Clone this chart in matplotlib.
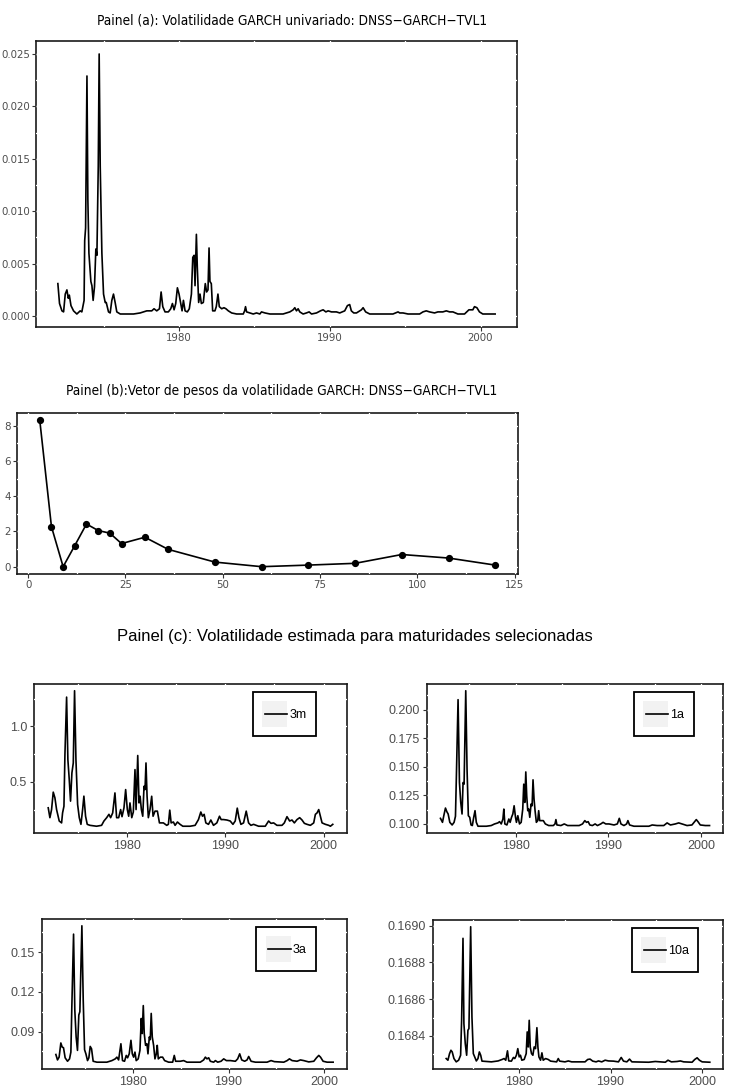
import matplotlib
matplotlib.use("Agg")
import matplotlib.pyplot as plt
from matplotlib.lines import Line2D
from matplotlib.patches import Rectangle
from matplotlib.legend_handler import HandlerBase
from matplotlib.ticker import MultipleLocator, FormatStrFormatter

# ---- Painel (a): volatilidade GARCH univariada (ano, valor) ----
A_YEAR = [1971.96, 1972.07, 1972.23, 1972.34, 1972.45, 1972.56, 1972.65, 1972.72, 1972.83, 1973.00,
          1973.22, 1973.44, 1973.55, 1973.66, 1973.70, 1973.74, 1973.80, 1973.89, 1973.95, 1974.02,
          1974.15, 1974.22, 1974.30, 1974.39, 1974.48, 1974.55, 1974.64, 1974.70, 1974.77, 1974.88,
          1974.99, 1975.10, 1975.17, 1975.32, 1975.43, 1975.54, 1975.65, 1975.76, 1975.87, 1976.10,
          1976.98, 1977.42, 1977.86, 1978.19, 1978.34, 1978.52, 1978.70, 1978.81, 1978.92, 1979.07,
          1979.29, 1979.45, 1979.56, 1979.67, 1979.78, 1979.89, 1980.00, 1980.11, 1980.20, 1980.29,
          1980.40, 1980.55, 1980.68, 1980.82, 1980.91, 1981.00, 1981.06, 1981.15, 1981.21, 1981.30,
          1981.39, 1981.48, 1981.61, 1981.74, 1981.83, 1981.92, 1981.99, 1982.05, 1982.14, 1982.23,
          1982.38, 1982.47, 1982.58, 1982.67, 1982.83, 1982.98, 1983.11, 1983.27, 1983.49, 1983.82,
          1984.26, 1984.35, 1984.41, 1984.48, 1984.70, 1984.92, 1985.14, 1985.36, 1985.47, 1985.70,
          1986.03, 1986.90, 1987.35, 1987.57, 1987.68, 1987.79, 1987.90, 1988.01, 1988.23, 1988.45,
          1988.63, 1988.79, 1989.12, 1989.38, 1989.56, 1989.74, 1989.89, 1990.11, 1990.44, 1990.66,
          1990.99, 1991.17, 1991.32, 1991.43, 1991.59, 1991.77, 1992.10, 1992.21, 1992.38, 1992.65,
          1993.53, 1994.19, 1994.53, 1994.64, 1994.86, 1995.19, 1995.96, 1996.18, 1996.40, 1996.62,
          1996.95, 1997.17, 1997.50, 1997.73, 1997.95, 1998.17, 1998.50, 1998.94, 1999.23, 1999.49,
          1999.60, 1999.76, 1999.93, 2000.15, 2000.97]
A_VOL = [0.0031, 0.0012, 0.0005, 0.0004, 0.0021, 0.0025, 0.0017, 0.0020, 0.0010, 0.0005,
         0.0002, 0.0005, 0.0004, 0.0012, 0.0015, 0.0072, 0.0084, 0.0229, 0.0111, 0.0060,
         0.0033, 0.0029, 0.0015, 0.0028, 0.0064, 0.0058, 0.0143, 0.0250, 0.0143, 0.0060,
         0.0021, 0.0013, 0.0013, 0.0004, 0.0003, 0.0015, 0.0021, 0.0013, 0.0004, 0.0002,
         0.0002, 0.0003, 0.0005, 0.0005, 0.0007, 0.0005, 0.0007, 0.0023, 0.0009, 0.0004,
         0.0004, 0.0007, 0.0012, 0.0006, 0.0012, 0.0027, 0.0021, 0.0012, 0.0005, 0.0015,
         0.0005, 0.0004, 0.0007, 0.0021, 0.0056, 0.0058, 0.0029, 0.0078, 0.0047, 0.0013,
         0.0021, 0.0012, 0.0013, 0.0031, 0.0023, 0.0025, 0.0065, 0.0033, 0.0031, 0.0005,
         0.0005, 0.0009, 0.0021, 0.0009, 0.0007, 0.0008, 0.0007, 0.0005, 0.0003, 0.0002,
         0.0002, 0.0005, 0.0009, 0.0004, 0.0003, 0.0002, 0.0003, 0.0002, 0.0004, 0.0003,
         0.0002, 0.0002, 0.0004, 0.0006, 0.0008, 0.0005, 0.0007, 0.0004, 0.0002, 0.0003,
         0.0004, 0.0002, 0.0003, 0.0005, 0.0006, 0.0004, 0.0005, 0.0004, 0.0004, 0.0003,
         0.0005, 0.0010, 0.0011, 0.0005, 0.0003, 0.0003, 0.0006, 0.0008, 0.0004, 0.0002,
         0.0002, 0.0002, 0.0004, 0.0003, 0.0003, 0.0002, 0.0002, 0.0004, 0.0005, 0.0004,
         0.0003, 0.0004, 0.0004, 0.0005, 0.0004, 0.0004, 0.0002, 0.0002, 0.0006, 0.0006,
         0.0009, 0.0008, 0.0004, 0.0002, 0.0002]

# ---- Painel (b): vetor de pesos por maturidade (meses) ----
B_MAT = [3, 6, 9, 12, 15, 18, 21, 24, 30, 36, 48, 60, 72, 84, 96, 108, 120]
B_WEIGHT = [8.3, 2.27, 0.0, 1.2, 2.42, 2.05, 1.9, 1.31, 1.67, 0.98, 0.26, 0.0, 0.09, 0.19, 0.69, 0.49, 0.09]

# ---- Painel (c): volatilidade estimada por maturidade ----
C3M_YEAR = [1971.98, 1972.15, 1972.32, 1972.49, 1972.66, 1972.83, 1973.10, 1973.34, 1973.44, 1973.58,
            1973.68, 1973.85, 1973.98, 1974.12, 1974.25, 1974.39, 1974.53, 1974.66, 1974.80, 1974.97,
            1975.14, 1975.31, 1975.48, 1975.61, 1975.78, 1975.95, 1976.23, 1976.90, 1977.41, 1977.65,
            1977.93, 1978.16, 1978.33, 1978.54, 1978.77, 1978.94, 1979.15, 1979.35, 1979.49, 1979.69,
            1979.86, 1980.03, 1980.17, 1980.30, 1980.48, 1980.64, 1980.81, 1980.92, 1981.09, 1981.22,
            1981.33, 1981.46, 1981.60, 1981.73, 1981.83, 1981.93, 1982.04, 1982.17, 1982.34, 1982.51,
            1982.65, 1982.85, 1983.09, 1983.30, 1983.70, 1984.04, 1984.21, 1984.35, 1984.49, 1984.72,
            1984.89, 1985.13, 1985.40, 1985.68, 1986.42, 1986.93, 1987.27, 1987.51, 1987.68, 1987.85,
            1988.02, 1988.29, 1988.53, 1988.80, 1989.14, 1989.41, 1989.58, 1989.82, 1990.16, 1990.50,
            1990.78, 1991.01, 1991.22, 1991.39, 1991.59, 1991.86, 1992.13, 1992.37, 1992.61, 1992.88,
            1993.39, 1994.07, 1994.41, 1994.65, 1994.92, 1995.26, 1995.77, 1996.01, 1996.28, 1996.55,
            1996.79, 1997.03, 1997.30, 1997.57, 1997.81, 1998.05, 1998.32, 1998.66, 1999.00, 1999.17,
            1999.34, 1999.51, 1999.68, 1999.85, 2000.19, 2000.53, 2000.70, 2000.94]
C3M_VOL = [0.266, 0.177, 0.25, 0.407, 0.356, 0.25, 0.147, 0.13, 0.22, 0.28,
           0.745, 1.263, 0.70, 0.52, 0.326, 0.58, 0.67, 1.32, 0.70, 0.296,
           0.177, 0.117, 0.25, 0.371, 0.19, 0.117, 0.108, 0.10, 0.108, 0.147,
           0.177, 0.207, 0.177, 0.22, 0.40, 0.177, 0.177, 0.25, 0.186, 0.266,
           0.43, 0.25, 0.19, 0.31, 0.177, 0.228, 0.61, 0.25, 0.737, 0.31,
           0.37, 0.25, 0.19, 0.46, 0.43, 0.67, 0.37, 0.177, 0.25, 0.37,
           0.19, 0.236, 0.236, 0.13, 0.13, 0.108, 0.117, 0.245, 0.13, 0.138,
           0.108, 0.138, 0.117, 0.10, 0.10, 0.108, 0.16, 0.228, 0.19, 0.207,
           0.13, 0.117, 0.156, 0.108, 0.13, 0.19, 0.16, 0.16, 0.156, 0.147,
           0.117, 0.147, 0.263, 0.177, 0.117, 0.13, 0.236, 0.13, 0.108, 0.117,
           0.10, 0.10, 0.147, 0.126, 0.13, 0.108, 0.108, 0.13, 0.186, 0.147,
           0.156, 0.13, 0.16, 0.177, 0.156, 0.126, 0.117, 0.108, 0.13, 0.207,
           0.22, 0.25, 0.19, 0.13, 0.117, 0.108, 0.10, 0.117]

C1A_YEAR = [1971.87, 1972.09, 1972.23, 1972.41, 1972.56, 1972.70, 1972.88, 1973.13, 1973.34, 1973.49,
            1973.59, 1973.77, 1973.92, 1974.06, 1974.20, 1974.31, 1974.42, 1974.60, 1974.74, 1974.88,
            1975.03, 1975.17, 1975.31, 1975.46, 1975.60, 1975.74, 1975.92, 1976.82, 1977.35, 1977.71,
            1978.07, 1978.25, 1978.43, 1978.61, 1978.71, 1978.82, 1979.04, 1979.25, 1979.39, 1979.54,
            1979.68, 1979.82, 1979.97, 1980.07, 1980.22, 1980.40, 1980.58, 1980.75, 1980.86, 1980.97,
            1981.08, 1981.18, 1981.29, 1981.40, 1981.51, 1981.65, 1981.76, 1981.86, 1981.97, 1982.08,
            1982.22, 1982.37, 1982.47, 1982.58, 1982.79, 1982.97, 1983.19, 1983.55, 1984.05, 1984.23,
            1984.33, 1984.44, 1984.87, 1985.23, 1985.59, 1986.84, 1987.20, 1987.45, 1987.63, 1987.81,
            1987.99, 1988.27, 1988.56, 1988.81, 1989.17, 1989.42, 1989.71, 1990.06, 1990.60, 1990.96,
            1991.17, 1991.35, 1991.67, 1991.96, 1992.10, 1992.28, 1992.75, 1994.36, 1994.72, 1995.25,
            1995.97, 1996.33, 1996.69, 1997.22, 1997.58, 1997.94, 1998.48, 1999.01, 1999.30, 1999.48,
            1999.66, 1999.91, 2000.45, 2000.91]
C1A_VOL = [0.1049, 0.1014, 0.1072, 0.1139, 0.1107, 0.1087, 0.1014, 0.0991, 0.1014, 0.1067,
           0.1420, 0.2087, 0.1362, 0.1188, 0.1087, 0.1362, 0.1348, 0.2165, 0.1478, 0.1072,
           0.1058, 0.0991, 0.0986, 0.1058, 0.1116, 0.1014, 0.0980, 0.0980, 0.0986, 0.1000,
           0.1009, 0.1020, 0.1000, 0.1043, 0.1130, 0.1000, 0.0991, 0.1043, 0.1014, 0.1058,
           0.1087, 0.1159, 0.1058, 0.1014, 0.1072, 0.1000, 0.1014, 0.1130, 0.1348, 0.1188,
           0.1455, 0.1246, 0.1116, 0.1130, 0.1058, 0.1174, 0.1159, 0.1386, 0.1217, 0.1116,
           0.1014, 0.1029, 0.1116, 0.1029, 0.1029, 0.1029, 0.1000, 0.0986, 0.0986, 0.1000,
           0.1038, 0.0991, 0.0986, 0.1000, 0.0986, 0.0986, 0.1000, 0.1029, 0.1014, 0.1020,
           0.0991, 0.0986, 0.1000, 0.0986, 0.1000, 0.1014, 0.1000, 0.1000, 0.0991, 0.1000,
           0.1049, 0.1000, 0.0986, 0.1000, 0.1029, 0.0991, 0.0980, 0.0980, 0.0991, 0.0986,
           0.0986, 0.1009, 0.0991, 0.1000, 0.1009, 0.1000, 0.0986, 0.0991, 0.1020, 0.1038,
           0.1020, 0.0991, 0.0986, 0.0986]

C3A_YEAR = [1971.95, 1972.12, 1972.29, 1972.47, 1972.61, 1972.75, 1972.92, 1973.17, 1973.38, 1973.52,
            1973.62, 1973.80, 1973.93, 1974.07, 1974.21, 1974.35, 1974.46, 1974.67, 1974.81, 1974.95,
            1975.09, 1975.26, 1975.40, 1975.54, 1975.68, 1975.85, 1976.24, 1977.28, 1977.81, 1978.16,
            1978.33, 1978.51, 1978.75, 1978.92, 1979.13, 1979.31, 1979.45, 1979.62, 1979.80, 1979.94,
            1980.08, 1980.22, 1980.35, 1980.56, 1980.74, 1980.88, 1980.98, 1981.09, 1981.19, 1981.33,
            1981.47, 1981.58, 1981.72, 1981.82, 1981.92, 1982.03, 1982.17, 1982.31, 1982.45, 1982.55,
            1982.66, 1982.87, 1983.11, 1983.32, 1983.74, 1984.16, 1984.33, 1984.47, 1984.96, 1985.31,
            1985.66, 1987.05, 1987.40, 1987.58, 1987.75, 1987.93, 1988.10, 1988.45, 1988.63, 1988.87,
            1989.22, 1989.50, 1989.78, 1990.20, 1990.72, 1990.96, 1991.17, 1991.38, 1991.69, 1991.94,
            1992.11, 1992.36, 1992.81, 1994.03, 1994.45, 1994.80, 1995.78, 1996.13, 1996.37, 1996.65,
            1997.17, 1997.52, 1997.87, 1998.39, 1998.92, 1999.20, 1999.44, 1999.62, 1999.89, 2000.31,
            2000.94]
C3A_VOL = [0.0727, 0.0686, 0.0707, 0.0814, 0.0783, 0.0778, 0.0702, 0.0676, 0.0694, 0.0745,
           0.1088, 0.1635, 0.1063, 0.0859, 0.0758, 0.1025, 0.1050, 0.1698, 0.1139, 0.0763,
           0.0732, 0.0681, 0.0702, 0.0788, 0.0770, 0.0676, 0.0669, 0.0669, 0.0681, 0.0694,
           0.0707, 0.0686, 0.0808, 0.0681, 0.0676, 0.0720, 0.0702, 0.0732, 0.0834, 0.0732,
           0.0707, 0.0745, 0.0681, 0.0694, 0.0758, 0.0999, 0.0885, 0.1096, 0.0885, 0.0796,
           0.0808, 0.0732, 0.0859, 0.0839, 0.1037, 0.0859, 0.0796, 0.0694, 0.0732, 0.0796,
           0.0694, 0.0707, 0.0707, 0.0681, 0.0669, 0.0669, 0.0720, 0.0676, 0.0676, 0.0681,
           0.0669, 0.0669, 0.0686, 0.0707, 0.0694, 0.0702, 0.0676, 0.0669, 0.0681, 0.0669,
           0.0676, 0.0694, 0.0681, 0.0681, 0.0676, 0.0694, 0.0732, 0.0686, 0.0676, 0.0686,
           0.0712, 0.0676, 0.0669, 0.0669, 0.0681, 0.0673, 0.0669, 0.0681, 0.0694, 0.0681,
           0.0676, 0.0686, 0.0681, 0.0671, 0.0676, 0.0702, 0.0720, 0.0707, 0.0676, 0.0669,
           0.0669]

C10A_YEAR = [1972.01, 1972.20, 1972.38, 1972.53, 1972.67, 1972.86, 1973.11, 1973.37, 1973.59, 1973.70,
             1973.85, 1973.95, 1974.10, 1974.25, 1974.39, 1974.50, 1974.69, 1974.83, 1974.98, 1975.13,
             1975.31, 1975.49, 1975.64, 1975.79, 1975.93, 1976.96, 1977.69, 1978.13, 1978.35, 1978.53,
             1978.72, 1978.86, 1979.15, 1979.37, 1979.52, 1979.70, 1979.85, 1980.00, 1980.14, 1980.29,
             1980.55, 1980.77, 1980.88, 1980.99, 1981.10, 1981.21, 1981.35, 1981.50, 1981.64, 1981.79,
             1981.94, 1982.05, 1982.16, 1982.34, 1982.49, 1982.63, 1982.89, 1983.18, 1983.44, 1984.10,
             1984.28, 1984.43, 1985.01, 1985.38, 1985.75, 1987.21, 1987.50, 1987.76, 1988.05, 1988.42,
             1988.68, 1989.04, 1989.41, 1989.77, 1990.32, 1990.87, 1991.17, 1991.42, 1991.79, 1992.08,
             1992.34, 1994.17, 1994.90, 1996.00, 1996.29, 1996.66, 1997.28, 1997.65, 1998.01, 1998.93,
             1999.22, 1999.48, 1999.73, 2000.03, 2000.87]
C10A_VOL = [0.168277, 0.168268, 0.168304, 0.168322, 0.168313, 0.168277, 0.168259, 0.168268, 0.168295, 0.168485,
            0.168931, 0.168467, 0.168358, 0.168295, 0.168431, 0.168440, 0.168994, 0.168503, 0.168304, 0.168286,
            0.168264, 0.168277, 0.168313, 0.168295, 0.168263, 0.168259, 0.168264, 0.168272, 0.168277, 0.168268,
            0.168319, 0.168264, 0.168263, 0.168283, 0.168277, 0.168295, 0.168331, 0.168286, 0.168295, 0.168268,
            0.168272, 0.168304, 0.168422, 0.168340, 0.168485, 0.168340, 0.168304, 0.168295, 0.168340, 0.168331,
            0.168445, 0.168340, 0.168286, 0.168268, 0.168308, 0.168268, 0.168277, 0.168272, 0.168263, 0.168259,
            0.168277, 0.168263, 0.168259, 0.168264, 0.168259, 0.168259, 0.168272, 0.168274, 0.168263, 0.168259,
            0.168264, 0.168259, 0.168268, 0.168264, 0.168263, 0.168259, 0.168283, 0.168263, 0.168259, 0.168274,
            0.168259, 0.168257, 0.168261, 0.168257, 0.168268, 0.168259, 0.168261, 0.168264, 0.168259, 0.168257,
            0.168272, 0.168281, 0.168268, 0.168259, 0.168257]

TITLE_A = "Painel (a): Volatilidade GARCH univariado: DNSS\u2212GARCH\u2212TVL1"
TITLE_B = "Painel (b):Vetor de pesos da volatilidade GARCH: DNSS\u2212GARCH\u2212TVL1"
TITLE_C = "Painel (c): Volatilidade estimada para maturidades selecionadas"

NARROW = ["DejaVu Sans"]
REGULAR = ["Liberation Sans", "DejaVu Sans"]
TICK_GRAY = "#4D4D4D"

W, H = 730, 1088
fig = plt.figure(figsize=(W / 100, H / 100), dpi=100)


class KeyHandler(HandlerBase):
    # ggplot-style legend key: light gray square with the line centred on it
    def create_artists(self, legend, orig_handle, xdescent, ydescent, width, height, fontsize, trans):
        rect = Rectangle((-xdescent, -ydescent), width, height,
                         facecolor="#F2F2F2", edgecolor="none", transform=trans)
        yc = -ydescent + height / 2
        line = Line2D([-xdescent + 0.1 * width, -xdescent + width], [yc, yc],
                      color=orig_handle.get_color(), lw=orig_handle.get_linewidth(), transform=trans)
        return [rect, line]


def add_axes_px(left, top, right, bottom):
    return fig.add_axes([left / W, 1 - bottom / H, (right - left) / W, (bottom - top) / H])


def style(ax, family, size, stretch="normal", pad=2):
    # ggplot-like: black border under white grid, outside ticks
    ax.set_facecolor("white")
    for s in ax.spines.values():
        s.set_linewidth(1.2)
        s.set_color("#1a1a1a")
        s.set_zorder(0.3)
    ax.set_axisbelow(True)
    ax.grid(True, which="both", color="white", linewidth=0.9)
    ax.tick_params(which="major", direction="out", length=3, width=0.8,
                   color="#333333", labelcolor=TICK_GRAY, labelsize=size, pad=pad)
    ax.tick_params(which="minor", length=0)
    for lab in ax.get_xticklabels() + ax.get_yticklabels():
        lab.set_family(family)
        lab.set_stretch(stretch)
    ax.margins(x=0.05, y=0.05)


def year_axis(ax):
    ax.xaxis.set_major_locator(MultipleLocator(10))
    ax.xaxis.set_minor_locator(MultipleLocator(5))
    ax.xaxis.set_major_formatter(FormatStrFormatter("%d"))


# Painel (a)
ax_a = add_axes_px(36, 41, 517, 327)
ax_a.plot(A_YEAR, A_VOL, color="black", lw=1.2, zorder=2)
year_axis(ax_a)
ax_a.yaxis.set_major_locator(MultipleLocator(0.005))
ax_a.yaxis.set_minor_locator(MultipleLocator(0.0025))
ax_a.yaxis.set_major_formatter(FormatStrFormatter("%.3f"))
style(ax_a, NARROW, 8.2, "condensed", pad=1.5)
fig.text(292 / W, 1 - 20 / H, TITLE_A, ha="center", va="center", fontsize=9.8,
         family=NARROW, stretch="condensed")

# Painel (b)
ax_b = add_axes_px(17, 413, 518, 574)
ax_b.plot(B_MAT, B_WEIGHT, color="black", lw=1.2, marker="o", markersize=4.2, zorder=2)
ax_b.xaxis.set_major_locator(MultipleLocator(25))
ax_b.xaxis.set_minor_locator(MultipleLocator(12.5))
ax_b.yaxis.set_major_locator(MultipleLocator(2))
ax_b.yaxis.set_minor_locator(MultipleLocator(1))
style(ax_b, NARROW, 8.2, "condensed", pad=1.5)
fig.text(282 / W, 1 - 391 / H, TITLE_B, ha="center", va="center", fontsize=9.8,
         family=NARROW, stretch="condensed")

# Painel (c)
fig.text(355 / W, 1 - 637 / H, TITLE_C, ha="center", va="center", fontsize=12, family=REGULAR)

panels_c = [
    ((34, 684, 347, 833), C3M_YEAR, C3M_VOL, "3m", 0.5, 0.25, "%.1f"),
    ((427, 684, 723, 833), C1A_YEAR, C1A_VOL, "1a", 0.025, 0.0125, "%.3f"),
    ((42, 919, 347, 1069), C3A_YEAR, C3A_VOL, "3a", 0.03, 0.015, "%.2f"),
    ((433, 920, 723, 1069), C10A_YEAR, C10A_VOL, "10a", 0.0002, 0.0001, "%.4f"),
]
for box, xs, ys, label, major, minor, fmt in panels_c:
    ax = add_axes_px(*box)
    line, = ax.plot(xs, ys, color="black", lw=1.2, zorder=2)
    year_axis(ax)
    ax.yaxis.set_major_locator(MultipleLocator(major))
    ax.yaxis.set_minor_locator(MultipleLocator(minor))
    ax.yaxis.set_major_formatter(FormatStrFormatter(fmt))
    style(ax, REGULAR, 9)
    leg = ax.legend([line], [label], loc="center", bbox_to_anchor=(0.8, 0.8),
                    handler_map={line: KeyHandler()},
                    handlelength=2.0, handleheight=2.8, handletextpad=0.15, borderpad=0.75,
                    frameon=True, fancybox=False, edgecolor="black", framealpha=1,
                    prop={"family": REGULAR, "size": 9})
    leg.get_frame().set_linewidth(1.3)

fig.savefig("out.png", dpi=100)
